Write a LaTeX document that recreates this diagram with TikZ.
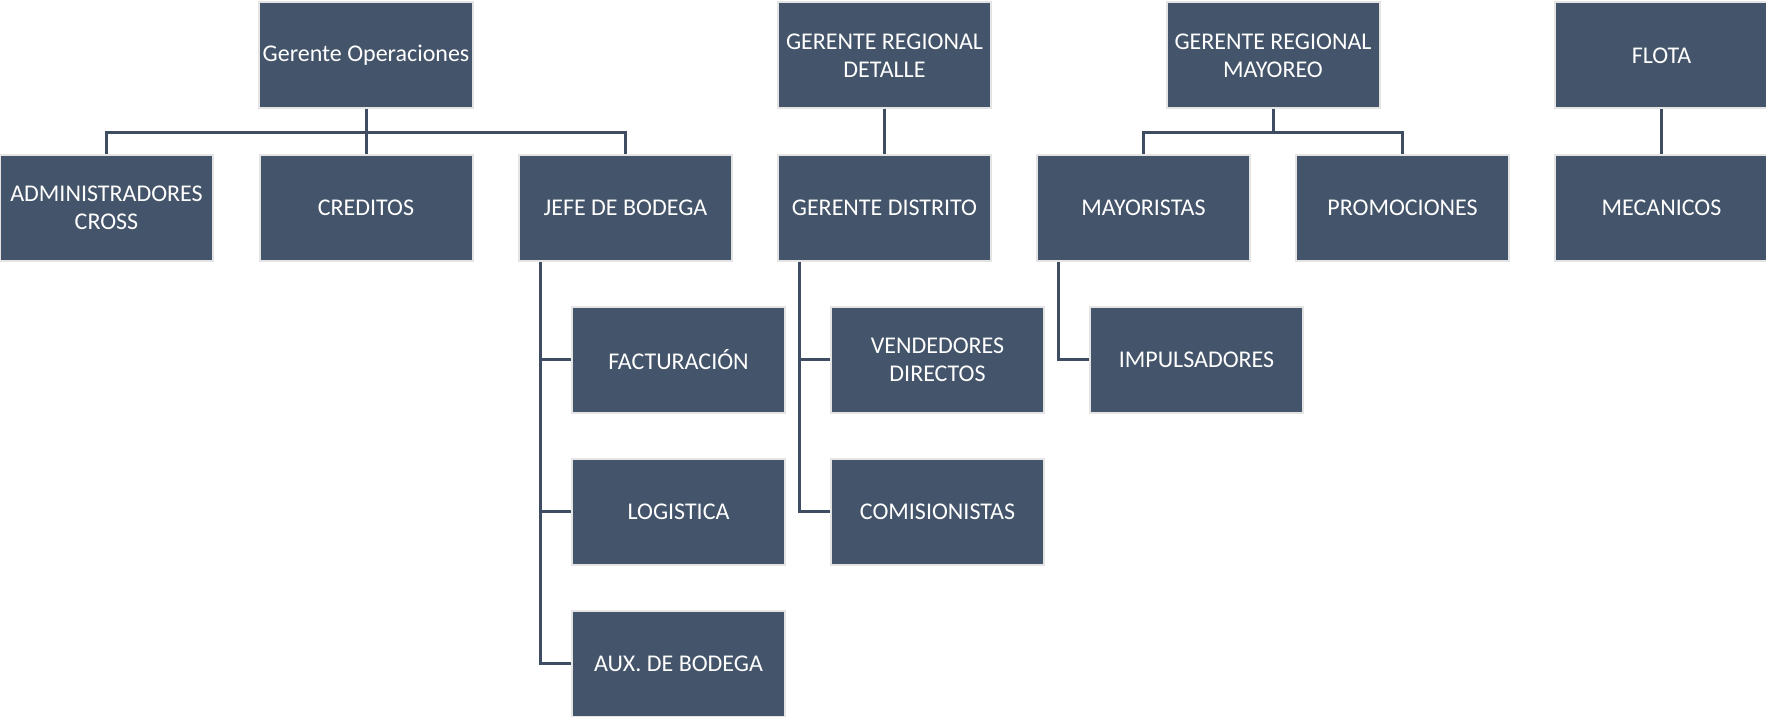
\documentclass[tikz,border=0pt]{standalone}
\usepackage{fontspec}
\setmainfont{Carlito}
\definecolor{boxfill}{HTML}{44546A}
\definecolor{boxedge}{HTML}{E4E4E4}
\definecolor{linkcol}{HTML}{3F4D63}
\tikzset{
  orgbox/.style={draw=boxedge, line width=1pt, fill=boxfill, text=white,
    minimum width=106.5pt, minimum height=53pt, inner sep=2pt, align=center,
    font=\fontsize{12}{13.8}\selectfont},
  link/.style={draw=linkcol, line width=1.5pt}
}
\begin{document}
\begin{tikzpicture}[x=0.5pt,y=-0.5pt]
\useasboundingbox (0,0) rectangle (1766,717);
% row 1
\node[orgbox] (go) at (366,55.5) {Gerente Operaciones};
\node[orgbox] (grd) at (884.5,55.5) {GERENTE REGIONAL\\DETALLE};
\node[orgbox] (grm) at (1273,55.5) {GERENTE REGIONAL\\MAYOREO};
\node[orgbox] (flota) at (1661.5,55.5) {FLOTA};
% row 2
\node[orgbox] (adm) at (106.5,207.5) {ADMINISTRADORES\\CROSS};
\node[orgbox] (cre) at (366,207.5) {CREDITOS};
\node[orgbox] (jefe) at (625.5,207.5) {JEFE DE BODEGA};
\node[orgbox] (gdis) at (884.5,207.5) {GERENTE DISTRITO};
\node[orgbox] (may) at (1143.5,207.5) {MAYORISTAS};
\node[orgbox] (pro) at (1402.5,207.5) {PROMOCIONES};
\node[orgbox] (mec) at (1661.5,207.5) {MECANICOS};
% lower rows
\node[orgbox] (fac) at (678.5,359.5) {FACTURACIÓN};
\node[orgbox] (log) at (678.5,511.5) {LOGISTICA};
\node[orgbox] (aux) at (678.5,663.5) {AUX. DE BODEGA};
\node[orgbox] (ven) at (937.5,359.5) {VENDEDORES\\DIRECTOS};
\node[orgbox] (com) at (937.5,511.5) {COMISIONISTAS};
\node[orgbox] (imp) at (1196.5,359.5) {IMPULSADORES};
% helper coordinates
\coordinate (hbar) at (0,133);
\coordinate (jx) at (540,0);
\coordinate (dx) at (799,0);
\coordinate (mx) at (1058,0);
% connectors
\draw[link] (go.south) -- (go.south |- hbar);
\draw[link] (adm.north) |- (hbar -| go.south) -| (jefe.north);
\draw[link] (go.south |- hbar) -- (cre.north);
\draw[link] (grd.south) -- (gdis.north);
\draw[link] (grm.south) -- (grm.south |- hbar);
\draw[link] (may.north) |- (hbar -| grm.south) -| (pro.north);
\draw[link] (flota.south) -- (mec.north);
\draw[link] (jx |- jefe.south) |- (aux.west);
\draw[link] (jx |- fac.west) -- (fac.west);
\draw[link] (jx |- log.west) -- (log.west);
\draw[link] (dx |- gdis.south) |- (com.west);
\draw[link] (dx |- ven.west) -- (ven.west);
\draw[link] (mx |- may.south) |- (imp.west);
\end{tikzpicture}
\end{document}
